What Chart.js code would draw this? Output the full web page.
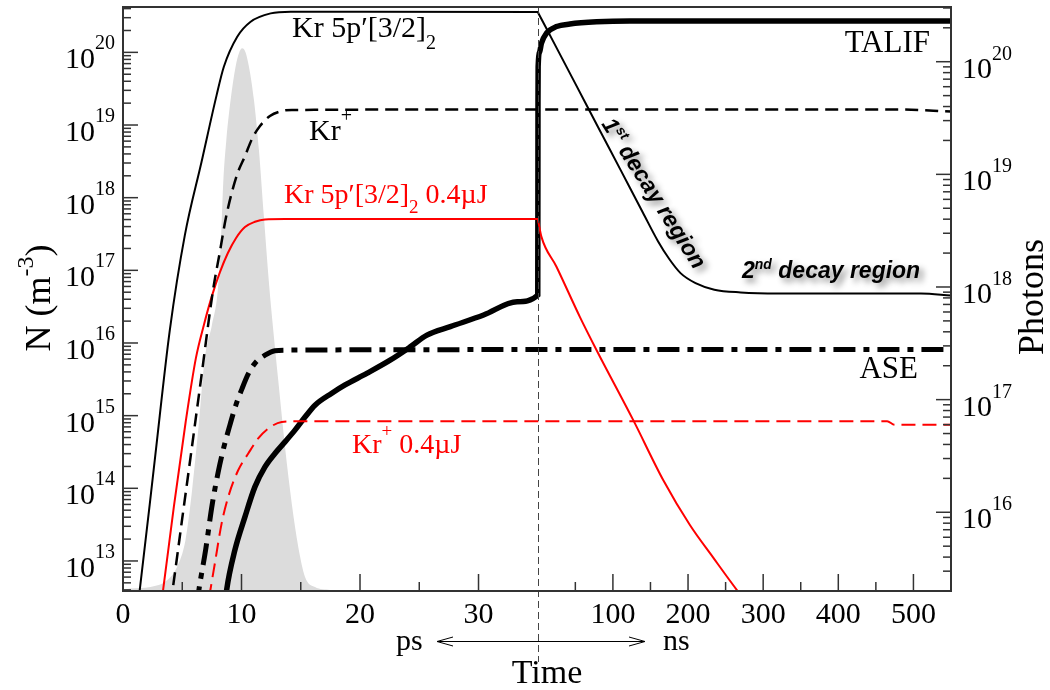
<!DOCTYPE html>
<html>
<head>
<meta charset="utf-8">
<script src="https://cdn.jsdelivr.net/npm/chart.js@4.4.1/dist/chart.umd.min.js"></script>
<style>html,body{margin:0;padding:0;background:#fff}</style>
</head>
<body>
<canvas id="c" width="1050" height="690"></canvas>
<script>
// broken time axis: ps on the left of the break, ns on the right
const PS_END = 35;        // ps where the ns part starts
const NS_SCALE = 0.0634;  // axis units per ns
const NS_END = 550;

const PS_TICKS = [0, 10, 20, 30];
const PS_MINOR = [5, 15, 25];
const NS_TICKS = [100, 200, 300, 400, 500];
const NS_MINOR = [50, 150, 250, 350, 450];
const LEFT_DECADES = [13, 14, 15, 16, 17, 18, 19, 20];
const RIGHT_DECADES = [16, 17, 18, 19, 20];

// Kr 5p'[3/2]2 (black solid)
const krExcPsT = [1.2, 1.41, 2.68, 3.95, 5.22, 6.63, 7.90, 8.51, 9.64, 10.77, 12.46, 14.15, 35];
const krExcPsN = [2.2e12, 3.95e12, 2.44e14, 1.50e16, 3.05e17, 3.12e18, 2.58e19, 6.34e19, 1.64e20, 2.64e20, 3.44e20, 3.62e20, 3.59e20];
const krExcNsT = [1, 20, 50, 80, 110, 140, 160, 175, 190, 210, 235, 270, 320, 510, 550];
const krExcNsN = [3.43e20, 1.45e20, 3.71e19, 9.48e18, 2.43e18, 6.21e17, 2.52e17, 1.43e17, 9.16e16, 6.67e16, 5.42e16, 4.97e16, 4.81e16, 4.81e16, 4.49e16];

// Kr+ (black dashed)
const krIonPsT = [4.0, 4.18, 4.99, 5.70, 6.54, 7.60, 8.17, 8.68, 9.19, 9.70, 10.29, 10.88, 11.56, 12.40, 13.41, 14.26, 35];
const krIonPsN = [2.5e12, 3.95e12, 3.76e13, 2.68e14, 2.80e15, 5.35e16, 1.78e17, 5.24e17, 1.19e18, 2.25e18, 3.73e18, 6.41e18, 9.68e18, 1.33e19, 1.56e19, 1.61e19, 1.64e19];
const krIonNsT = [480, 550];
const krIonNsN = [1.64e19, 1.53e19];

// Kr 5p'[3/2]2 at 0.4 uJ (red solid)
const krExcLowPsT = [3.2, 3.38, 4.29, 5.27, 6.15, 6.82, 7.50, 8.18, 8.85, 9.53, 10.29, 11.13, 11.98, 13.67, 35];
const krExcLowPsN = [2.5e12, 3.95e12, 5.55e13, 7.80e14, 6.18e15, 1.76e16, 4.42e16, 9.44e16, 1.73e17, 2.77e17, 3.94e17, 4.66e17, 5.02e17, 5.07e17, 5.07e17];
const krExcLowNsT = [1, 4.9, 24.9, 56, 78.3, 127.1, 167.1, 202.7, 233.3, 265.3, 280];
const krExcLowNsN = [4.53e17, 2.89e17, 1.12e17, 2.29e16, 7.96e15, 8.67e14, 1.29e14, 3.10e13, 1.12e13, 3.95e12, 2.54e12];

// Kr+ at 0.4 uJ (red dashed)
const krIonLowPsT = [7.0, 7.37, 7.75, 8.32, 8.88, 9.72, 10.57, 11.41, 12.26, 13.39, 14.79, 35];
const krIonLowPsN = [1.6e12, 3.95e12, 9.23e12, 3.27e13, 7.62e13, 1.77e14, 3.01e14, 4.85e14, 6.65e14, 8.20e14, 8.39e14, 8.39e14];
const krIonLowNsT = [465, 475, 550];
const krIonLowNsN = [8.39e14, 7.48e14, 7.48e14];

// ASE photons (right axis, dash-dot)
const asePsT = [6.2, 6.40, 6.97, 7.52, 8.03, 8.51, 9.02, 9.52, 10.03, 10.57, 11.13, 11.98, 12.82, 13.92, 35];
const asePsN = [1.4e15, 2.03e15, 4.61e15, 1.16e16, 2.27e16, 3.78e16, 5.94e16, 8.93e16, 1.24e17, 1.69e17, 2.10e17, 2.48e17, 2.72e17, 2.75e17, 2.78e17];
const aseNsT = [550];
const aseNsN = [2.78e17];

// TALIF photons (right axis, thick)
const talifPsT = [8.6, 8.74, 9.44, 10.29, 11.13, 11.98, 12.82, 13.67, 14.51, 15.36, 16.20, 17.62, 18.74, 20.57, 22.54, 24.24, 25.65, 27.62, 30.43, 33.26, 35];
const talifPsN = [1.5e15, 2.03e15, 4.61e15, 9.10e15, 1.68e16, 2.53e16, 3.33e16, 4.22e16, 5.36e16, 7.00e16, 8.93e16, 1.14e17, 1.35e17, 1.71e17, 2.24e17, 2.94e17, 3.74e17, 4.44e17, 5.64e17, 7.40e17, 8.47e17];
const talifNsT = [0.3, 0.5, 2.5, 4.9, 11.6, 24.9, 42.7, 78.3, 122.7, 550];
const talifNsN = [4.57e19, 9.04e19, 1.22e20, 1.46e20, 1.79e20, 2.05e20, 2.16e20, 2.26e20, 2.30e20, 2.30e20];

// laser pulse (grey area)
const pulseT = [0, 0.63, 2.32, 3.72, 4.56, 5.27, 5.83, 6.40, 6.91, 7.50, 8.00, 8.26, 8.47, 8.72, 9.08, 9.50, 9.79, 10.06,
                10.33, 10.63, 11.05, 11.47, 11.89, 12.32, 12.68, 13.10, 13.67, 14.24, 14.79, 15.36, 16.20, 17.47];
const pulseN = [3.98e12, 4.17e12, 4.39e12, 5.43e12, 8.28e12, 1.93e13, 9.42e13, 7.80e14, 6.38e15, 1.76e16, 5.35e16, 2.61e17, 1.75e18, 6.21e18, 2.21e19, 6.34e19, 9.79e19, 1.14e20,
                1.01e20, 6.34e19, 2.21e19, 4.52e18, 5.46e17, 6.61e16, 1.50e16, 3.08e15, 3.72e14, 6.18e13, 1.56e13, 6.03e12, 4.39e12, 3.98e12];

function pts(psT, psN, nsT, nsN) {
    const out = psT.map((t, i) => ({x: t, y: psN[i]}));
    (nsT || []).forEach((t, i) => out.push({x: PS_END + t * NS_SCALE, y: nsN[i]}));
    return out;
}

const SERIF = "'Liberation Serif', 'Times New Roman', serif";
const SANS = "'Liberation Sans', Arial, sans-serif";

// draw runs of text (with sub/superscripts) from x on baseline y
function runs(ctx, parts, x, y, family, style) {
    for (const p of parts) {
        ctx.font = (style || '') + ' ' + p.size + 'px ' + family;
        ctx.fillText(p.t, x, y + (p.dy || 0));
        x += ctx.measureText(p.t).width;
    }
    return x;
}
function runsWidth(ctx, parts, family, style) {
    let w = 0;
    for (const p of parts) {
        ctx.font = (style || '') + ' ' + p.size + 'px ' + family;
        w += ctx.measureText(p.t).width;
    }
    return w;
}

const deco = {
    id: 'deco',
    afterDatasetsDraw(chart) {
        const {ctx, chartArea: a, scales} = chart;
        const xs = scales.x, yl = scales.y, yr = scales.y1;
        const psX = t => xs.getPixelForValue(t);
        const nsX = t => xs.getPixelForValue(PS_END + t * NS_SCALE);
        ctx.save();
        ctx.textAlign = 'left';
        ctx.textBaseline = 'alphabetic';

        // break line
        const bx = Math.round(psX(PS_END)) + 0.5;
        ctx.strokeStyle = '#444';
        ctx.lineWidth = 1;
        ctx.setLineDash([7, 4]);
        ctx.beginPath(); ctx.moveTo(bx, a.top); ctx.lineTo(bx, 662); ctx.stroke();
        ctx.setLineDash([]);

        // frame
        ctx.strokeStyle = '#333';
        ctx.lineWidth = 2;
        ctx.strokeRect(a.left, a.top, a.right - a.left, a.bottom - a.top);

        // y ticks, pointing inwards
        ctx.lineWidth = 1.5;
        const seg = (x0, y0, x1, y1) => { ctx.beginPath(); ctx.moveTo(x0, y0); ctx.lineTo(x1, y1); ctx.stroke(); };
        [[yl, 1], [yr, -1]].forEach(([sc, dir]) => {
            const lo = Math.floor(Math.log10(sc.min)), hi = Math.ceil(Math.log10(sc.max));
            for (let e = lo; e <= hi; e++) {
                for (let m = 1; m <= 9; m++) {
                    const v = m * Math.pow(10, e);
                    if (v < sc.min || v > sc.max) continue;
                    const y = sc.getPixelForValue(v);
                    const len = m === 1 ? 15 : 8;
                    const x0 = dir > 0 ? a.left : a.right;
                    seg(x0, y, x0 + dir * len, y);
                }
            }
        });
        // x ticks
        PS_TICKS.forEach(t => seg(psX(t), a.bottom, psX(t), a.bottom - 17));
        PS_MINOR.forEach(t => seg(psX(t), a.bottom, psX(t), a.bottom - 9));
        NS_TICKS.forEach(t => seg(nsX(t), a.bottom, nsX(t), a.bottom - 17));
        NS_MINOR.forEach(t => seg(nsX(t), a.bottom, nsX(t), a.bottom - 9));

        // tick labels
        ctx.fillStyle = '#000';
        LEFT_DECADES.forEach(e => {
            const y = yl.getPixelForValue(Math.pow(10, e));
            const parts = [{t: '10', size: 30, dy: 16}, {t: String(e), size: 20, dy: -3}];
            const w = runsWidth(ctx, parts, SERIF);
            runs(ctx, parts, 115 - w, y, SERIF);
        });
        RIGHT_DECADES.forEach(e => {
            const y = yr.getPixelForValue(Math.pow(10, e));
            runs(ctx, [{t: '10', size: 30, dy: 16}, {t: String(e), size: 20, dy: -2}], 962, y, SERIF);
        });
        ctx.textAlign = 'center';
        ctx.font = '30px ' + SERIF;
        PS_TICKS.forEach(t => ctx.fillText(String(t), psX(t), 623));
        NS_TICKS.forEach(t => ctx.fillText(String(t), nsX(t), 623));
        ctx.textAlign = 'left';

        // time axis title with ps <-> ns arrow
        ctx.font = '30px ' + SERIF;
        ctx.fillText('ps', 396, 650);
        ctx.fillText('ns', 663, 650);
        ctx.strokeStyle = '#000';
        ctx.lineWidth = 1;
        const ay = 641.5;
        seg(437, ay, 645, ay);
        seg(453, ay - 4.5, 437, ay); seg(437, ay, 453, ay + 4.5);
        seg(629, ay - 4.5, 645, ay); seg(645, ay, 629, ay + 4.5);
        ctx.textAlign = 'center';
        ctx.font = '34px ' + SERIF;
        ctx.fillText('Time', 547, 683);
        ctx.textAlign = 'left';

        // y titles
        ctx.save();
        ctx.translate(50, 298);
        ctx.rotate(-Math.PI / 2);
        let parts = [{t: 'N (m', size: 36}, {t: '-3', size: 24, dy: -17}, {t: ')', size: 36}];
        runs(ctx, parts, -runsWidth(ctx, parts, SERIF) / 2, 0, SERIF);
        ctx.restore();
        ctx.save();
        ctx.translate(1043, 297);
        ctx.rotate(-Math.PI / 2);
        ctx.textAlign = 'center';
        ctx.font = '36px ' + SERIF;
        ctx.fillText('Photons', 0, 0);
        ctx.restore();

        // curve labels
        ctx.fillStyle = '#000';
        runs(ctx, [{t: 'Kr 5p\u2032[3/2]', size: 30}, {t: '2', size: 20, dy: 12}], 292, 36.5, SERIF);
        runs(ctx, [{t: 'Kr', size: 30}, {t: '+', size: 20, dy: -18}], 309, 140, SERIF);
        ctx.fillStyle = '#ff0000';
        runs(ctx, [{t: 'Kr 5p\u2032[3/2]', size: 28}, {t: '2', size: 19, dy: 10}, {t: ' 0.4\u00b5J', size: 28}], 284, 203, SERIF);
        runs(ctx, [{t: 'Kr', size: 28}, {t: '+', size: 19, dy: -16}, {t: ' 0.4\u00b5J', size: 28}], 352, 453, SERIF);
        ctx.fillStyle = '#000';
        ctx.textAlign = 'right';
        ctx.font = '31px ' + SERIF;
        ctx.fillText('TALIF', 930, 52);
        ctx.fillText('ASE', 918, 378);
        ctx.textAlign = 'left';

        // decay region notes with soft shadow
        ctx.shadowColor = 'rgba(0,0,0,0.45)';
        ctx.shadowBlur = 6;
        ctx.shadowOffsetX = 4;
        ctx.shadowOffsetY = 4;
        ctx.save();
        ctx.translate(601, 124);
        ctx.rotate(57.5 * Math.PI / 180);
        runs(ctx, [{t: '1', size: 23}, {t: 'st', size: 14, dy: -9}, {t: ' decay region', size: 23}], 0, 0, SANS, 'italic bold');
        ctx.restore();
        runs(ctx, [{t: '2', size: 23}, {t: 'nd', size: 14, dy: -9}, {t: ' decay region', size: 23}], 742, 278, SANS, 'italic bold');
        ctx.restore();
    }
};

const base = {pointRadius: 0, fill: false, clip: 0, cubicInterpolationMode: 'monotone'};

new Chart(document.getElementById('c'), {
    type: 'line',
    data: {
        datasets: [
            {...base, label: 'Kr 5p\u2032[3/2]2', data: pts(krExcPsT, krExcPsN, krExcNsT, krExcNsN),
             borderColor: '#000', borderWidth: 2},
            {...base, label: 'Kr+', data: pts(krIonPsT, krIonPsN, krIonNsT, krIonNsN),
             borderColor: '#000', borderWidth: 2.5, borderDash: [13, 7]},
            {...base, label: 'Kr 5p\u2032[3/2]2 0.4\u00b5J', data: pts(krExcLowPsT, krExcLowPsN, krExcLowNsT, krExcLowNsN),
             borderColor: '#ff0000', borderWidth: 2},
            {...base, label: 'Kr+ 0.4\u00b5J', data: pts(krIonLowPsT, krIonLowPsN, krIonLowNsT, krIonLowNsN),
             borderColor: '#ff0000', borderWidth: 2, borderDash: [14, 7]},
            {...base, label: 'ASE', yAxisID: 'y1', data: pts(asePsT, asePsN, aseNsT, aseNsN),
             borderColor: '#000', borderWidth: 5, borderDash: [22, 8, 6, 8]},
            {...base, label: 'TALIF', yAxisID: 'y1', data: pts(talifPsT, talifPsN, talifNsT, talifNsN),
             borderColor: '#000', borderWidth: 5.5},
            {...base, label: 'pulse', data: pts(pulseT, pulseN), order: 99,
             borderWidth: 0, borderColor: 'rgba(0,0,0,0)', backgroundColor: '#dcdcdc', fill: 'start'}
        ]
    },
    options: {
        responsive: false,
        animation: false,
        devicePixelRatio: 1,
        layout: {padding: {left: 123, right: 99, top: 7, bottom: 99}},
        plugins: {legend: {display: false}, tooltip: {enabled: false}},
        scales: {
            x: {type: 'linear', min: 0, max: PS_END + NS_END * NS_SCALE, display: false},
            y: {type: 'logarithmic', min: 3.86e12, max: 4.21e20, display: false},
            y1: {type: 'logarithmic', position: 'right', min: 2.0e15, max: 3.06e20, display: false}
        }
    },
    plugins: [deco]
});
</script>
</body>
</html>
